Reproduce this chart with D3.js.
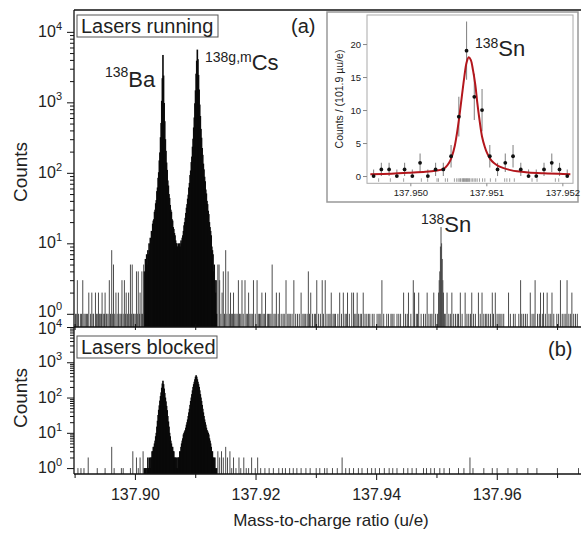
<!DOCTYPE html>
<html><head><meta charset="utf-8">
<script src="https://cdn.jsdelivr.net/npm/d3@7"></script>
<style>
body{margin:0;background:#fff}
svg{display:block}
text{font-family:"Liberation Sans",Arial,Helvetica,sans-serif;fill:#222}
</style>
</head><body>
<svg id="chart" width="581" height="533"></svg>
<script>
// ---------------- DATA ----------------
const binWidth = 0.0001;          // u/e per histogram bin (main panels)
const peakStart = 137.9015;       // first bin of the 138Ba / 138Cs region
// counts per bin, lasers running (panel a)
const topPeakCounts = [4,3,6,5,7,5,8,7,10,8,12,11,15,14,19,21,22,28,30,37,41,55,62,85,102,150,195,320,510,1050,2200,4700,2400,980,540,300,205,140,110,78,66,50,44,35,30,28,22,21,17,16,14,13,11,10,10,9,9,10,9,10,9,11,10,12,13,15,18,20,23,27,32,36,43,49,62,72,93,108,142,170,235,305,440,610,970,1480,2550,3900,5600,4100,2450,1520,930,640,420,315,225,180,135,112,88,76,58,51,40,36,29,26,20,17,15,13,9,8,7,4,5,3,2,3,1];
// counts per bin, lasers blocked (panel b)
const bottomPeakCounts = [1,0,1,1,0,1,2,1,1,2,1,2,2,3,3,4,4,5,6,8,10,15,22,32,45,60,82,110,140,190,250,300,240,180,135,100,78,58,44,30,21,15,10,8,6,5,4,4,3,3,2,2,2,1,2,1,2,2,2,3,3,4,5,6,7,9,10,11,12,14,17,20,24,30,38,48,62,80,100,125,160,200,240,280,330,390,430,390,330,280,240,200,160,125,100,80,62,48,38,30,24,20,17,14,12,11,10,9,7,6,5,4,3,3,2,2,1,2,1,0,1];
// scattered background bins [mass, counts], panel a
const topNoise = [[137.8901,1],[137.8904,3],[137.8909,1],[137.8913,3],[137.8917,1],[137.8923,2],[137.8928,2],[137.8931,1],[137.8934,2],[137.8939,2],[137.8942,1],[137.8945,2],[137.8950,2],[137.8953,1],[137.8957,3],[137.8961,8],[137.8964,5],[137.8968,2],[137.8972,2],[137.8975,1],[137.8978,3],[137.8982,3],[137.8985,2],[137.8989,2],[137.8992,5],[137.8995,5],[137.8998,1],[137.9002,4],[137.9005,4],[137.9008,2],[137.9011,4],[137.9014,5],
[137.9137,5],[137.9139,5],[137.9140,3],[137.9144,2],[137.9146,4],[137.9150,8],[137.9154,4],[137.9158,2],[137.9163,2],[137.9167,1],[137.9171,3],[137.9177,3],[137.9182,3],[137.9188,2],[137.9192,1],[137.9196,3],[137.9202,3],[137.9206,1],[137.9210,2],[137.9216,2],[137.9223,1],[137.9227,5],[137.9234,2],[137.9239,2],[137.9245,1],[137.9250,3],[137.9257,1],[137.9263,3],[137.9269,1],[137.9275,2],[137.9282,1],[137.9287,4],[137.9291,2],[137.9297,1],[137.9301,3],[137.9310,3],[137.9315,3],[137.9321,1],[137.9325,2],[137.9332,1],[137.9339,2],[137.9345,2],[137.9352,2],[137.9359,2],[137.9362,2],[137.9368,2],[137.9373,1],[137.9378,2],[137.9384,1],[137.9393,1],[137.9401,1],[137.9409,3],[137.9417,1],[137.9426,1],[137.9434,1],[137.9445,2],[137.9453,2],[137.9461,3],[137.9463,2],[137.9470,2],[137.9478,1],[137.9484,2],[137.9490,1],[137.9495,2],
[137.9501,1],[137.9503,2],[137.9504,3],[137.9505,4],[137.9506,9],[137.9507,17],[137.9508,10],[137.9509,6],[137.9510,3],[137.9511,2],[137.9513,1],
[137.9517,2],[137.9525,2],[137.9531,1],[137.9539,2],[137.9547,2],[137.9553,1],[137.9558,2],[137.9569,2],[137.9575,2],[137.9583,1],[137.9592,2],[137.9597,2],[137.9605,1],[137.9619,2],[137.9627,1],[137.9639,3],[137.9647,1],[137.9655,2],[137.9663,3],[137.9672,2],[137.9677,2],[137.9683,2],[137.9691,2],[137.9699,1],[137.9705,3],[137.9716,3],[137.9724,2],[137.9733,1]];
// single-count bins, panel a
const topOnes = [137.8903,137.8906,137.8911,137.8915,137.8919,137.8921,137.8926,137.8930,137.8936,137.8937,137.8941,137.8944,137.8947,137.8949,137.8952,137.8955,137.8959,137.8962,137.8966,137.8970,137.8973,137.8977,137.8980,137.8984,137.8987,137.8991,137.8994,137.8997,137.9000,137.9004,137.9007,137.9010,137.9012,
137.9142,137.9148,137.9152,137.9156,137.9160,137.9161,137.9165,137.9169,137.9173,137.9175,137.9179,137.9184,137.9186,137.9190,137.9194,137.9199,137.9204,137.9208,137.9212,137.9214,137.9219,137.9221,137.9225,137.9230,137.9232,137.9237,137.9242,137.9247,137.9253,137.9255,137.9260,137.9266,137.9272,137.9278,137.9280,137.9285,137.9289,137.9294,137.9299,137.9304,137.9307,137.9312,137.9318,137.9323,137.9328,137.9330,137.9336,137.9342,137.9348,137.9350,137.9355,137.9364,137.9366,137.9370,137.9375,137.9381,137.9387,137.9389,137.9396,137.9404,137.9406,137.9412,137.9420,137.9424,137.9429,137.9437,137.9440,137.9448,137.9451,137.9457,137.9466,137.9468,137.9474,137.9481,137.9487,137.9492,137.9498,137.9514,137.9520,137.9523,137.9528,137.9534,137.9536,137.9542,137.9550,137.9556,137.9561,137.9564,137.9572,137.9578,137.9581,137.9586,137.9589,137.9594,137.9600,137.9603,137.9608,137.9611,137.9622,137.9630,137.9636,137.9641,137.9644,137.9650,137.9658,137.9661,137.9667,137.9670,137.9675,137.9680,137.9686,137.9689,137.9694,137.9702,137.9708,137.9711,137.9714,137.9719,137.9722,137.9727,137.9730];
// scattered background bins [mass, counts], panel b
const bottomNoise = [[137.8905,1],[137.8910,1],[137.8915,1],[137.8922,2],[137.8937,1],[137.8950,1],[137.8961,4],[137.8965,1],[137.8977,1],[137.8980,1],[137.8992,1],[137.8996,3],[137.9002,2],[137.9005,1],[137.9008,2],[137.9013,3],
[137.9137,3],[137.9140,2],[137.9143,3],[137.9146,2],[137.9150,4],[137.9153,2],[137.9157,3],[137.9160,1],[137.9163,2],[137.9167,1],[137.9172,2],[137.9175,1],[137.9180,2],[137.9184,1],[137.9188,1],[137.9193,2],[137.9199,1],[137.9203,2],[137.9208,1],[137.9215,1],[137.9222,1],[137.9229,1],[137.9238,1],[137.9244,1],[137.9249,1],[137.9256,1],[137.9262,1],[137.9268,1],[137.9275,1],[137.9283,1],[137.9290,1],[137.9300,1],[137.9306,1],[137.9314,1],[137.9318,1],[137.9327,1],[137.9335,1],[137.9343,2],[137.9349,1],[137.9355,1],[137.9362,1],[137.9370,1],[137.9376,1],[137.9385,1],[137.9392,1],[137.9398,1],[137.9405,1],[137.9413,1],[137.9421,1],[137.9427,1],[137.9434,1],[137.9445,1],[137.9452,1],[137.9459,1],[137.9466,1],[137.9478,1],[137.9483,1],[137.9490,1],[137.9496,1],[137.9505,1],[137.9512,1],[137.9521,1],[137.9536,1],[137.9545,1],[137.9555,2],[137.9560,1],[137.9578,1],[137.9592,1],[137.9600,1],[137.9618,1],[137.9633,1],[137.9651,1],[137.9666,1],[137.9700,1],[137.9735,1]];
const xTickValues = [137.90, 137.92, 137.94, 137.96];
const xMinorValues = [137.89, 137.91, 137.93, 137.95, 137.97];
const yDecades = [0, 1, 2, 3, 4];
// inset: 138Sn, binned at 101.9 µu/e
const insetBinStart = 137.949466;
const insetBinWidth = 0.0001019;
const insetCounts = [0,1,1,0,1,0,2,0,1,1,3,9,19,12,10,3,1,2,3,1,0,0,1,2,1,0];
const insetErrLo  = [0,0,0,0,0,0,0.6,0,0,0,1.3,6,14.6,8.5,6.8,1.3,0,0.6,1.3,0,0,0,0,0.6,0,0];
const insetErrHi  = [1,2,2,1,2,1,3.4,1,2,2,4.7,12,23.4,15.5,13.2,4.7,2,3.4,4.7,2,1,1,2,3.4,2,1];
const fitMass = [137.949474,137.94975,137.95,137.9502,137.950351,137.95042,137.950461,137.95051,137.950548,137.950585,137.950614,137.95065,137.95068,137.95071,137.95074,137.950768,137.950795,137.950825,137.950855,137.95088,137.95091,137.950943,137.95098,137.951009,137.95105,137.951096,137.95116,137.951228,137.95132,137.951404,137.95155,137.951754,137.95195,137.952105];
const fitCounts = [0.28,0.35,0.5,0.65,0.85,1.0,1.3,2.0,3.0,4.6,6.5,9.5,12.3,15.0,17.2,18.0,17.6,16.0,13.8,11.2,8.5,6.0,4.4,3.5,2.6,2.0,1.5,1.2,0.9,0.72,0.55,0.42,0.33,0.28];
const rugMass = [137.949583,137.949737,137.949912,137.950145,137.950228,137.950351,137.95037,137.950461,137.95049,137.95058,137.95061,137.95063,137.95065,137.95066,137.95068,137.95069,137.9507,137.95071,137.95072,137.95073,137.95074,137.95075,137.95076,137.95077,137.95078,137.9508,137.95082,137.95084,137.95086,137.95088,137.95091,137.95095,137.95098,137.951053,137.951123,137.951241,137.95127,137.951307,137.951368,137.951601,137.951667,137.951908,137.951952];
const insetYTicks = [0,5,10,15,20];
const insetXTicks = [137.950,137.951,137.952];

// ---------------- CHART ----------------
const svg = d3.select("#chart");
const L = 74, R = 580, topY0 = 10, split = 327, botY1 = 474;
const x = d3.scaleLinear().domain([137.8899, 137.9738]).range([L, R]);
const yTop = d3.scaleLog().domain([0.65, Math.pow(10, 4.31)]).range([split, topY0]);
const yBot = d3.scaleLog().domain([0.68, 10000]).range([botY1, split]);

function bins(peak, noise, ones) {
  const out = [];
  peak.forEach((c, i) => { if (c > 0) out.push({m: peakStart + i * binWidth, c, peak: true}); });
  noise.forEach(d => out.push({m: d[0], c: d[1], peak: false}));
  (ones || []).forEach(m => out.push({m, c: 1, peak: false}));
  return out;
}
function drawBars(g, data, y, base) {
  g.selectAll("rect").data(data).join("rect")
    .attr("x", d => x(d.m) - (d.peak ? 0.5 : 0.15))
    .attr("width", d => d.peak ? (x(d.m + binWidth) - x(d.m)) + 1.0 : 0.95)
    .attr("y", d => y(d.c))
    .attr("height", d => base - y(d.c))
    .attr("fill", d => d.peak ? "#0a0a0a" : "#444");
}
svg.append("clipPath").attr("id","ct").append("rect").attr("x",L).attr("y",topY0).attr("width",R-L).attr("height",split-topY0);
drawBars(svg.append("g").attr("clip-path","url(#ct)"), bins(topPeakCounts, topNoise, topOnes), yTop, split);
drawBars(svg.append("g"), bins(bottomPeakCounts, bottomNoise, null), yBot, botY1);

// frame lines (left axes, top line, shared line, bottom line)
const frame = svg.append("g").attr("stroke","#111").attr("stroke-width",1.3);
frame.append("line").attr("x1",L).attr("x2",L).attr("y1",topY0).attr("y2",botY1);
frame.append("line").attr("x1",L).attr("x2",581).attr("y1",topY0).attr("y2",topY0);
frame.append("line").attr("x1",L).attr("x2",581).attr("y1",split).attr("y2",split);
frame.append("line").attr("x1",L).attr("x2",581).attr("y1",botY1).attr("y2",botY1);

// y axes
function yAxis(y, shift0, shift4) {
  const g = svg.append("g").attr("transform", `translate(${L},0)`);
  g.call(d3.axisLeft(y).tickValues(yDecades.map(e => Math.pow(10, e))).tickSize(7).tickFormat(""));
  const minors = [];
  yDecades.slice(0, -1).forEach(e => { for (let k = 2; k <= 9; k++) minors.push(k * Math.pow(10, e)); });
  g.append("g").call(d3.axisLeft(y).tickValues(minors).tickSize(4).tickFormat(""));
  g.selectAll(".domain").remove();
  g.selectAll("line").attr("stroke","#111");
  yDecades.forEach(e => {
    const off = e === 0 ? shift0 : (e === 4 ? shift4 : 0);
    const t = svg.append("text").attr("x", 62).attr("y", y(Math.pow(10, e)) + 5 + off)
      .attr("text-anchor","end").attr("font-size",16);
    t.append("tspan").text("10");
    t.append("tspan").attr("dy",-7).attr("font-size",11).text(e);
  });
}
yAxis(yTop, -2, 0);
yAxis(yBot, 0, 2);

// x axis (bottom)
const gx = svg.append("g").attr("transform", `translate(0,${botY1})`);
gx.call(d3.axisBottom(x).tickValues(xTickValues).tickSize(6).tickFormat(d3.format(".2f")));
gx.append("g").call(d3.axisBottom(x).tickValues(xMinorValues.filter(v => x(v) > L && x(v) < R)).tickSize(4).tickFormat(""));
gx.selectAll(".domain").remove();
gx.selectAll("line").attr("stroke","#111");
gx.selectAll("text").attr("font-size",16).attr("fill","#222").attr("dy","1.05em")
  .style("font-family",'"Liberation Sans",Arial,sans-serif');
// ticks on the shared line
const gs = svg.append("g").attr("transform", `translate(0,${split+3})`);
gs.call(d3.axisTop(x).tickValues(xTickValues.concat(xMinorValues).filter(v => x(v) > L && x(v) < R)).tickSize(6).tickFormat(""));
gs.selectAll(".domain").remove();
gs.selectAll("line").attr("stroke","#111");

// titles
svg.append("text").attr("transform","translate(27,172) rotate(-90)").attr("text-anchor","middle").attr("font-size",19).text("Counts");
svg.append("text").attr("transform","translate(27,398) rotate(-90)").attr("text-anchor","middle").attr("font-size",19).text("Counts");
svg.append("text").attr("x",331).attr("y",526).attr("text-anchor","middle").attr("font-size",17).text("Mass-to-charge ratio (u/e)");

// legend boxes
function tagBox(xx, yy, w, h, label) {
  svg.append("rect").attr("x",xx).attr("y",yy).attr("width",w).attr("height",h).attr("fill","#fff").attr("stroke","#555").attr("stroke-width",1);
  svg.append("text").attr("x",xx+4).attr("y",yy+h-4).attr("font-size",20).text(label);
}
tagBox(77, 15, 141, 22, "Lasers running");
tagBox(77, 336, 140, 22, "Lasers blocked");
svg.append("text").attr("x",291).attr("y",33).attr("font-size",20).text("(a)");
svg.append("text").attr("x",548).attr("y",356).attr("font-size",20).text("(b)");

function isoLabel(xx, yy, sup, el, supDy) {
  const t = svg.append("text").attr("x", xx).attr("y", yy).attr("font-size", 22);
  t.append("tspan").attr("font-size",14).attr("dy",-supDy).text(sup);
  t.append("tspan").attr("dy",supDy).text(el);
}
isoLabel(105, 87, "138", "Ba", 10);
isoLabel(205, 70, "138g,m", "Cs", 8);
isoLabel(421, 232, "138", "Sn", 8);

// ---------------- INSET ----------------
const ix0 = 367, ix1 = 573, iy0 = 15, iy1 = 183.3;
svg.append("rect").attr("x",327).attr("y",12).attr("width",251).attr("height",190).attr("fill","#fff").attr("stroke","#999").attr("stroke-width",1.5);
const xi = d3.scaleLinear().domain([137.94943, 137.95214]).range([ix0, ix1]);
const yi = d3.scaleLinear().domain([-1.1, 24.4]).range([iy1, iy0]);
svg.append("rect").attr("x",ix0).attr("y",iy0).attr("width",ix1-ix0).attr("height",iy1-iy0).attr("fill","none").attr("stroke","#aaa").attr("stroke-width",1);
const giy = svg.append("g").attr("transform",`translate(${ix0},0)`);
giy.call(d3.axisLeft(yi).tickValues(insetYTicks).tickSize(4).tickPadding(2));
giy.selectAll(".domain").remove();
giy.selectAll("line").attr("stroke","#888");
giy.selectAll("text").attr("font-size",9.5).attr("fill","#444").style("font-family",'"Liberation Sans",Arial,sans-serif');
const gix = svg.append("g").attr("transform",`translate(0,${iy1})`);
gix.call(d3.axisBottom(xi).tickValues(insetXTicks).tickSize(3).tickFormat(d3.format(".3f")));
gix.selectAll(".domain").remove();
gix.selectAll("line").attr("stroke","#888");
gix.selectAll("text").attr("font-size",9.5).attr("fill","#444").style("font-family",'"Liberation Sans",Arial,sans-serif');
svg.append("text").attr("transform","translate(343,99) rotate(-90)").attr("text-anchor","middle").attr("font-size",10.5).attr("fill","#333").text("Counts / (101.9 µu/e)");
// rug
svg.append("g").selectAll("line").data(rugMass).join("line")
  .attr("x1",d=>xi(d)).attr("x2",d=>xi(d)).attr("y1",iy1-5).attr("y2",iy1-1.5)
  .attr("stroke","#777").attr("stroke-width",0.7);
// error bars + points
const pts = insetCounts.map((c,i)=>({m: insetBinStart + (i+0.5)*insetBinWidth, c, lo: insetErrLo[i], hi: insetErrHi[i]}));
svg.append("g").selectAll("line").data(pts).join("line")
  .attr("x1",d=>xi(d.m)).attr("x2",d=>xi(d.m)).attr("y1",d=>yi(d.lo)).attr("y2",d=>yi(d.hi))
  .attr("stroke","#8a8a8a").attr("stroke-width",1.1);
// fit
svg.append("path").datum(fitMass.map((m,i)=>[m,fitCounts[i]]))
  .attr("d", d3.line().x(d=>xi(d[0])).y(d=>yi(d[1])).curve(d3.curveCatmullRom))
  .attr("fill","none").attr("stroke","#b3161c").attr("stroke-width",2);
svg.append("g").selectAll("circle").data(pts).join("circle")
  .attr("cx",d=>xi(d.m)).attr("cy",d=>yi(d.c)).attr("r",1.9).attr("fill","#111");
isoLabel(475, 56, "138", "Sn", 8);
</script>
</body></html>
